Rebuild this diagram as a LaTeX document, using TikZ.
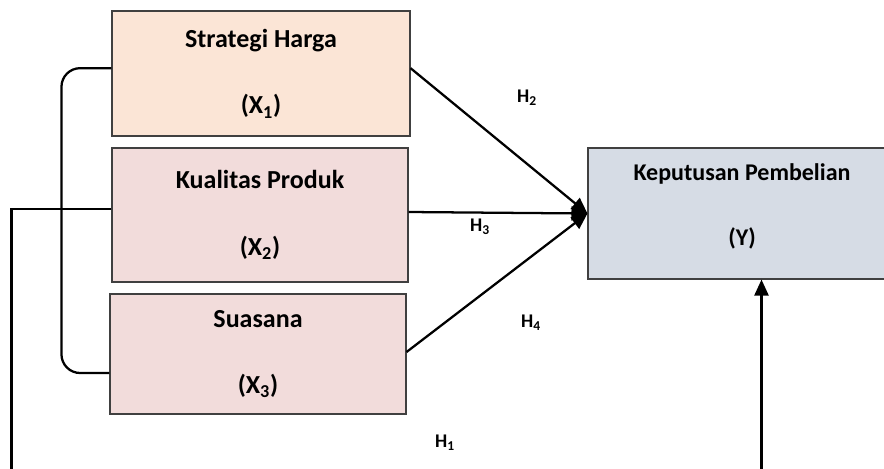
\documentclass[tikz,border=0pt]{standalone}
\usepackage{fontspec}
\setmainfont{Carlito}
\usetikzlibrary{arrows.meta}
\definecolor{hargafill}{HTML}{FBE5D6}
\definecolor{varfill}{HTML}{F2DCDB}
\definecolor{yfill}{HTML}{D6DCE5}
\definecolor{boxline}{HTML}{404040}

\begin{document}
\begin{tikzpicture}[x=0.75pt,y=-0.75pt,
  varbox/.style={draw=boxline, line width=0.8pt, align=center, inner sep=0pt,
    font=\fontsize{19.5}{23.5}\selectfont\bfseries},
  hlabel/.style={font=\fontsize{14.5}{16}\selectfont\bfseries},
  link/.style={black, line width=1.7pt},
  arr/.style={link, -{Triangle[length=12pt,width=10.5pt]}}]
\useasboundingbox (0,0) rectangle (884,468);
\clip (0,0) rectangle (884,468);

% variabel bebas
\node[varbox, fill=hargafill, minimum width=223.5pt, minimum height=93.75pt] (X1) at (261,73.5) {Strategi Harga\\[26.5pt](X\textsubscript{1})};
\node[varbox, fill=varfill, minimum width=222pt, minimum height=100.5pt] (X2) at (260,215) {Kualitas Produk\\[26.5pt](X\textsubscript{2})};
\node[varbox, fill=varfill, minimum width=222pt, minimum height=90pt] (X3) at (258,354) {Suasana\\[26.5pt](X\textsubscript{3})};

% variabel terikat
\node[varbox, fill=yfill, minimum width=231pt, minimum height=98.25pt, text depth=13pt,
  font=\fontsize{18}{22}\selectfont\bfseries] (Y) at (742,213.5) {Keputusan Pembelian\\[26.75pt](Y)};

% hipotesis
\node[hlabel] (H2) at (527,98) {H\textsubscript{2}};
\node[hlabel] (H3) at (480,227) {H\textsubscript{3}};
\node[hlabel] (H4) at (531,323) {H\textsubscript{4}};
\node[hlabel] (H1) at (445,443) {H\textsubscript{1}};

\draw[arr] ([yshift=4pt]X1.east) -- (Y.west);
\draw[arr] ([yshift=2.25pt]X2.east) -- (Y.west);
\draw[arr] ([yshift=1.5pt]X3.east) -- (Y.west);

% simultan
\draw[link, rounded corners=14pt] ([yshift=4pt]X1.west) -| ([xshift=-36pt,yshift=-14.25pt]X3.west) -- ([yshift=-14.25pt]X3.west);
\coordinate (h1l) at (11.5,470);
\coordinate (h1r) at (761.5,470);
\draw[link] ([yshift=4.5pt]X2.west) -| (h1l);
\draw[arr] (h1r) -- (h1r |- Y.south);

\end{tikzpicture}
\end{document}
